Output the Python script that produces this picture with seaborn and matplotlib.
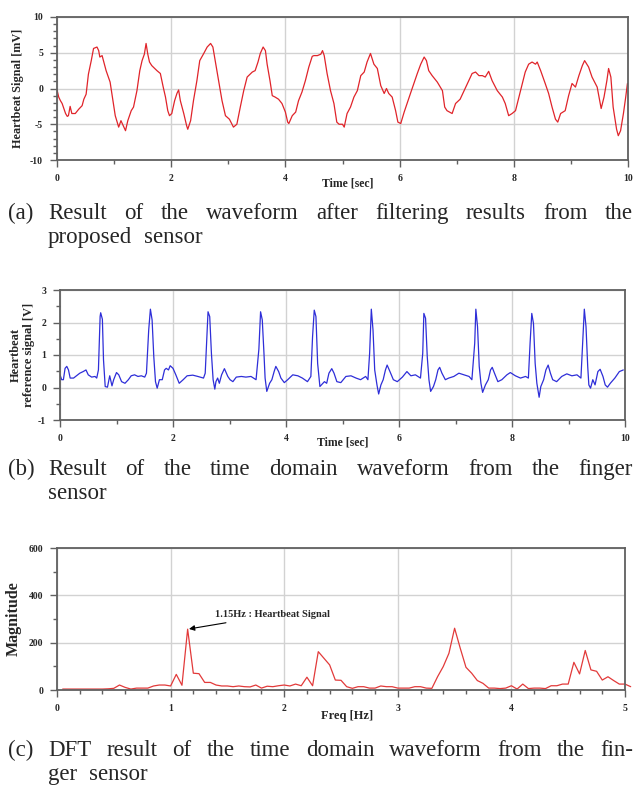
import matplotlib
matplotlib.use("Agg")
import matplotlib.pyplot as plt
from matplotlib.ticker import MultipleLocator
import seaborn as sns

# (a) filtered waveform from the proposed sensor
time_a = [0.00, 0.03, 0.06, 0.09, 0.15, 0.18, 0.20, 0.23, 0.26, 0.32, 0.38, 0.44, 0.47, 0.51,
          0.55, 0.60, 0.64, 0.70, 0.73, 0.75, 0.79, 0.82, 0.86, 0.93, 0.98, 1.02, 1.08, 1.12,
          1.16, 1.20, 1.24, 1.30, 1.34, 1.40, 1.45, 1.49, 1.53, 1.56, 1.59, 1.62, 1.66, 1.75,
          1.81, 1.86, 1.90, 1.94, 1.97, 2.01, 2.06, 2.10, 2.13, 2.16, 2.22, 2.27, 2.29, 2.34,
          2.39, 2.45, 2.50, 2.57, 2.63, 2.69, 2.73, 2.77, 2.83, 2.89, 2.95, 3.02, 3.09, 3.15,
          3.21, 3.27, 3.33, 3.42, 3.47, 3.52, 3.56, 3.61, 3.65, 3.68, 3.73, 3.77, 3.82, 3.88,
          3.94, 4.00, 4.04, 4.06, 4.12, 4.18, 4.23, 4.29, 4.35, 4.41, 4.47, 4.50, 4.56, 4.62,
          4.65, 4.68, 4.73, 4.79, 4.85, 4.90, 4.94, 5.00, 5.03, 5.08, 5.14, 5.20, 5.26, 5.32,
          5.38, 5.43, 5.49, 5.55, 5.61, 5.67, 5.73, 5.77, 5.81, 5.87, 5.93, 5.97, 6.02, 6.08,
          6.13, 6.19, 6.25, 6.31, 6.37, 6.43, 6.47, 6.51, 6.57, 6.66, 6.75, 6.79, 6.83, 6.92,
          6.98, 7.06, 7.13, 7.21, 7.27, 7.33, 7.39, 7.45, 7.50, 7.56, 7.62, 7.71, 7.80, 7.85,
          7.91, 7.97, 8.03, 8.09, 8.15, 8.20, 8.26, 8.32, 8.38, 8.41, 8.47, 8.55, 8.61, 8.67,
          8.73, 8.77, 8.82, 8.90, 8.96, 9.02, 9.08, 9.14, 9.20, 9.24, 9.31, 9.37, 9.46, 9.53,
          9.58, 9.63, 9.66, 9.70, 9.74, 9.80, 9.83, 9.87, 9.92, 9.96, 9.99]
signal_a = [-0.2, -1.2, -1.7, -2.1, -3.5, -3.9, -3.8, -2.5, -3.5, -3.5, -2.9, -2.4, -1.5, -0.8,
            2.0, 3.9, 5.6, 5.8, 5.3, 4.4, 4.6, 3.7, 2.5, 0.9, -1.7, -3.8, -5.4, -4.5,
            -5.2, -5.9, -4.5, -3.1, -2.6, -0.3, 2.5, 3.9, 4.8, 6.3, 4.8, 3.7, 3.2, 2.5,
            2.1, 0.2, -1.2, -3.1, -3.8, -3.5, -1.7, -0.7, -0.2, -1.7, -3.5, -5.2, -5.7, -4.5,
            -1.7, 1.1, 3.9, 4.9, 5.8, 6.3, 5.8, 3.9, 1.1, -1.7, -3.8, -4.3, -5.4, -5.0,
            -2.6, -0.3, 1.6, 2.3, 2.5, 3.7, 4.9, 5.8, 5.3, 3.4, 1.1, -1.0, -1.2, -1.5,
            -2.1, -3.3, -4.7, -4.9, -3.8, -3.3, -1.7, -0.5, 1.1, 3.0, 4.5, 4.6, 4.6, 4.8,
            5.3, 4.6, 2.1, -0.3, -2.1, -4.7, -5.0, -5.0, -5.4, -3.5, -2.6, -1.2, -0.3, 1.8,
            2.3, 3.7, 4.9, 3.4, 2.8, 0.4, -0.7, 0.0, -0.7, -1.2, -3.1, -4.7, -4.9, -3.3,
            -2.1, -0.7, 0.7, 2.1, 3.4, 4.4, 3.9, 2.5, 1.8, 0.9, -0.3, -2.6, -3.1, -3.5,
            -2.1, -1.5, -0.3, 1.1, 2.1, 2.3, 1.8, 1.8, 1.6, 2.4, 1.1, -0.3, -1.2, -2.1,
            -3.8, -3.5, -3.1, -1.2, 0.7, 2.3, 3.4, 3.7, 3.4, 3.7, 2.5, 0.7, -0.7, -2.6,
            -4.3, -4.7, -3.5, -3.1, -1.0, 0.7, 0.2, 1.8, 3.2, 3.9, 3.0, 1.6, 0.2, -2.8,
            -1.2, 1.1, 2.8, 1.6, -2.6, -5.7, -6.6, -5.9, -3.5, -1.2, 0.7]

# (b) reference signal from the finger sensor
time_b = [0.00, 0.03, 0.06, 0.09, 0.12, 0.15, 0.18, 0.24, 0.29, 0.35, 0.41, 0.46, 0.50, 0.56,
          0.62, 0.65, 0.68, 0.71, 0.72, 0.75, 0.77, 0.80, 0.84, 0.88, 0.92, 0.95, 1.00, 1.04,
          1.09, 1.15, 1.21, 1.26, 1.32, 1.38, 1.44, 1.50, 1.53, 1.57, 1.60, 1.63, 1.66, 1.69,
          1.72, 1.76, 1.81, 1.85, 1.88, 1.92, 1.95, 2.00, 2.05, 2.11, 2.18, 2.25, 2.35, 2.44,
          2.54, 2.57, 2.60, 2.62, 2.65, 2.68, 2.71, 2.74, 2.76, 2.79, 2.82, 2.86, 2.91, 2.97,
          3.01, 3.06, 3.12, 3.21, 3.29, 3.38, 3.47, 3.52, 3.55, 3.58, 3.61, 3.63, 3.66, 3.71,
          3.75, 3.79, 3.82, 3.87, 3.91, 3.97, 4.03, 4.12, 4.21, 4.29, 4.38, 4.44, 4.47, 4.50,
          4.53, 4.56, 4.60, 4.68, 4.72, 4.76, 4.81, 4.85, 4.90, 4.97, 5.06, 5.15, 5.24, 5.32,
          5.41, 5.45, 5.48, 5.51, 5.54, 5.57, 5.61, 5.64, 5.68, 5.72, 5.76, 5.79, 5.84, 5.90,
          5.97, 6.06, 6.14, 6.21, 6.29, 6.38, 6.42, 6.44, 6.47, 6.50, 6.53, 6.56, 6.61, 6.65,
          6.69, 6.72, 6.76, 6.82, 6.88, 6.97, 7.06, 7.15, 7.24, 7.29, 7.34, 7.36, 7.39, 7.42,
          7.45, 7.48, 7.53, 7.58, 7.62, 7.65, 7.69, 7.75, 7.82, 7.91, 7.97, 8.06, 8.15, 8.24,
          8.29, 8.32, 8.35, 8.38, 8.41, 8.44, 8.48, 8.51, 8.56, 8.60, 8.64, 8.68, 8.72, 8.79,
          8.88, 8.97, 9.06, 9.15, 9.22, 9.25, 9.28, 9.31, 9.34, 9.36, 9.39, 9.43, 9.47, 9.52,
          9.56, 9.61, 9.65, 9.69, 9.74, 9.82, 9.90, 9.97]
signal_b = [0.39, 0.24, 0.24, 0.59, 0.65, 0.54, 0.29, 0.29, 0.36, 0.44, 0.49, 0.54, 0.39, 0.32,
            0.34, 0.29, 0.54, 2.18, 2.30, 2.10, 0.85, 0.03, 0.01, 0.36, 0.05, 0.24, 0.46, 0.39,
            0.18, 0.13, 0.24, 0.36, 0.39, 0.34, 0.36, 0.32, 0.44, 1.77, 2.41, 2.08, 0.95, 0.18,
            -0.02, 0.24, 0.24, 0.54, 0.59, 0.54, 0.67, 0.59, 0.39, 0.13, 0.24, 0.36, 0.38, 0.34,
            0.29, 0.44, 1.56, 2.33, 2.18, 1.05, 0.24, -0.05, 0.18, 0.29, 0.13, 0.39, 0.58, 0.34,
            0.24, 0.18, 0.32, 0.34, 0.32, 0.34, 0.24, 1.18, 2.33, 2.08, 1.05, 0.29, -0.12, 0.13,
            0.24, 0.49, 0.65, 0.49, 0.29, 0.15, 0.24, 0.39, 0.36, 0.29, 0.18, 0.34, 1.56, 2.38,
            2.18, 0.74, 0.03, 0.18, 0.13, 0.44, 0.58, 0.44, 0.18, 0.15, 0.34, 0.36, 0.29, 0.24,
            0.34, 0.24, 1.05, 2.41, 1.77, 0.54, 0.08, -0.20, 0.08, 0.24, 0.54, 0.69, 0.49, 0.24,
            0.18, 0.32, 0.49, 0.36, 0.39, 0.29, 1.05, 2.28, 2.13, 0.95, 0.24, -0.12, 0.03, 0.24,
            0.54, 0.62, 0.44, 0.24, 0.29, 0.34, 0.44, 0.39, 0.34, 0.24, 1.36, 2.41, 1.87, 0.65,
            0.13, -0.15, 0.08, 0.24, 0.54, 0.62, 0.44, 0.18, 0.24, 0.39, 0.46, 0.36, 0.29, 0.34,
            0.29, 1.36, 2.28, 1.97, 0.74, 0.13, -0.30, 0.03, 0.24, 0.54, 0.69, 0.44, 0.24, 0.18,
            0.34, 0.42, 0.36, 0.39, 0.29, 1.36, 2.41, 1.87, 0.65, 0.08, -0.02, 0.24, 0.08, 0.49,
            0.56, 0.34, 0.08, 0.01, 0.13, 0.29, 0.49, 0.54]

# (c) DFT of the finger sensor waveform
freq_c = [0.05, 0.10, 0.15, 0.20, 0.25, 0.30, 0.35, 0.40, 0.45, 0.50,
          0.55, 0.60, 0.65, 0.70, 0.75, 0.80, 0.85, 0.90, 0.95, 1.00,
          1.05, 1.10, 1.15, 1.20, 1.25, 1.30, 1.35, 1.40, 1.45, 1.50,
          1.55, 1.60, 1.65, 1.70, 1.75, 1.80, 1.85, 1.90, 1.95, 2.00,
          2.05, 2.10, 2.15, 2.20, 2.25, 2.30, 2.35, 2.40, 2.45, 2.50,
          2.55, 2.60, 2.65, 2.70, 2.75, 2.80, 2.85, 2.90, 2.95, 3.00,
          3.05, 3.10, 3.15, 3.20, 3.25, 3.30, 3.35, 3.40, 3.45, 3.50,
          3.55, 3.60, 3.65, 3.70, 3.75, 3.80, 3.85, 3.90, 3.95, 4.00,
          4.05, 4.10, 4.15, 4.20, 4.25, 4.30, 4.35, 4.40, 4.45, 4.50,
          4.55, 4.60, 4.65, 4.70, 4.75, 4.80, 4.85, 4.90, 4.95, 5.00, 5.05]
magnitude_c = [4, 4, 4, 4, 4, 4, 4, 4, 5, 7,
               21, 11, 4, 8, 8, 8, 17, 21, 21, 17,
               66, 20, 257, 71, 69, 32, 32, 21, 17, 17,
               14, 17, 14, 13, 21, 8, 16, 14, 18, 21,
               17, 25, 18, 54, 18, 162, 134, 106, 42, 41,
               14, 7, 14, 14, 8, 8, 17, 14, 14, 8,
               8, 8, 14, 14, 8, 7, 56, 99, 155, 261,
               176, 96, 71, 40, 28, 8, 8, 6, 8, 18,
               4, 25, 6, 8, 8, 6, 18, 18, 25, 25,
               117, 68, 167, 85, 79, 42, 56, 40, 25, 25, 14]

captions = [
    ("(a)", "Result of the waveform after filtering results from the", "proposed sensor"),
    ("(b)", "Result of the time domain waveform from the finger", "sensor"),
    ("(c)", "DFT result of the time domain waveform from the fin-", "ger sensor"),
]

sns.set_style("ticks")
plt.rcParams['font.family'] = ['Liberation Serif', 'DejaVu Serif']
plt.rcParams['axes.unicode_minus'] = False

W, H = 635, 789
fig = plt.figure(figsize=(W / 100, H / 100), dpi=100)


def px_axes(left, top, right, bottom):
    return fig.add_axes([left / W, 1 - bottom / H, (right - left) / W, (bottom - top) / H])


def style_axes(ax, xmaj, xmin, ymaj, ymin):
    ax.xaxis.set_major_locator(MultipleLocator(xmaj))
    ax.xaxis.set_minor_locator(MultipleLocator(xmin))
    ax.yaxis.set_major_locator(MultipleLocator(ymaj))
    ax.yaxis.set_minor_locator(MultipleLocator(ymin))
    ax.grid(True, which='major', color='#d2d2d2', linewidth=1.0)
    ax.set_axisbelow(True)
    for s in ax.spines.values():
        s.set_color('#606060')
        s.set_linewidth(1.3)
    ax.tick_params(which='major', direction='out', length=5, width=1, color='#606060',
                   labelsize=7, pad=5)
    ax.tick_params(which='minor', direction='out', length=3, width=1, color='#606060')
    for lab in ax.get_xticklabels() + ax.get_yticklabels():
        lab.set_fontweight('bold')


# panel (a)
ax1 = px_axes(57, 17, 628, 160)
sns.lineplot(x=time_a, y=signal_a, ax=ax1, color='#e0242a', linewidth=0.9)
ax1.set_xlim(0, 10)
ax1.set_ylim(-10, 10)
style_axes(ax1, 2, 1, 5, 1)
ax1.set_xlabel("Time [sec]", fontsize=8.5, fontweight='bold')
ax1.xaxis.set_label_coords(0.51, -0.12)
ax1.set_ylabel("Heartbeat Signal [mV]", fontsize=8.8, fontweight='bold')
ax1.yaxis.set_label_coords(-0.058, 0.5)

# panel (b)
ax2 = px_axes(60, 290, 625, 420)
sns.lineplot(x=time_b, y=signal_b, ax=ax2, color='#2e2ed8', linewidth=0.9)
ax2.set_xlim(0, 10)
ax2.set_ylim(-1, 3)
style_axes(ax2, 2, 1, 1, 0.5)
ax2.set_xlabel("Time [sec]", fontsize=8.5, fontweight='bold')
ax2.xaxis.set_label_coords(0.5, -0.13)
ax2.set_ylabel("Heartbeat\nreference signal [V]", fontsize=9, fontweight='bold',
               linespacing=1.05)
ax2.yaxis.set_label_coords(-0.045, 0.5)

# panel (c)
ax3 = px_axes(57, 548, 625, 690)
sns.lineplot(x=freq_c, y=magnitude_c, ax=ax3, color='#e23a3a', linewidth=0.9)
for ln in ax3.lines:
    ln.set_clip_on(False)
ax3.set_xlim(0, 5)
ax3.set_ylim(0, 600)
style_axes(ax3, 1, 0.2, 200, 100)
ax3.set_xlabel("Freq [Hz]", fontsize=9, fontweight='bold')
ax3.xaxis.set_label_coords(0.51, -0.14)
ax3.set_ylabel("Magnitude", fontsize=11.5, fontweight='bold')
ax3.yaxis.set_label_coords(-0.062, 0.5)
peak_i = magnitude_c.index(max(magnitude_c[:40]))
ax3.annotate("1.15Hz : Heartbeat Signal", xy=(freq_c[peak_i], magnitude_c[peak_i]),
             xytext=(1.39, 317), fontsize=7.5, fontweight='bold', va='center', ha='left',
             arrowprops=dict(arrowstyle='-|>', color='black', lw=0.8,
                             shrinkA=0, shrinkB=1, mutation_scale=8))

# captions (justified first lines)
renderer = fig.canvas.get_renderer()
cap_size = 16.5
cap_rows = [(219, 243), (475, 499), (756, 780)]


def place_words(words, x0, y, x1=None, gap=5.0):
    txts = [fig.text(0, 1 - y / H, w, fontsize=cap_size, va='baseline', ha='left')
            for w in words]
    widths = [t.get_window_extent(renderer).width for t in txts]
    if x1 is not None and len(words) > 1:
        gap = (x1 - x0 - sum(widths)) / (len(words) - 1)
    x = x0
    for t, w in zip(txts, widths):
        t.set_x(x / W)
        x += w + gap


for (tag, line1, line2), (y1, y2) in zip(captions, cap_rows):
    fig.text(8 / W, 1 - y1 / H, tag, fontsize=cap_size, va='baseline', ha='left')
    place_words(line1.split(), 48, y1, x1=633)
    place_words(line2.split(), 48, y2, gap=12)

fig.savefig("out.png", dpi=100, facecolor='white')
